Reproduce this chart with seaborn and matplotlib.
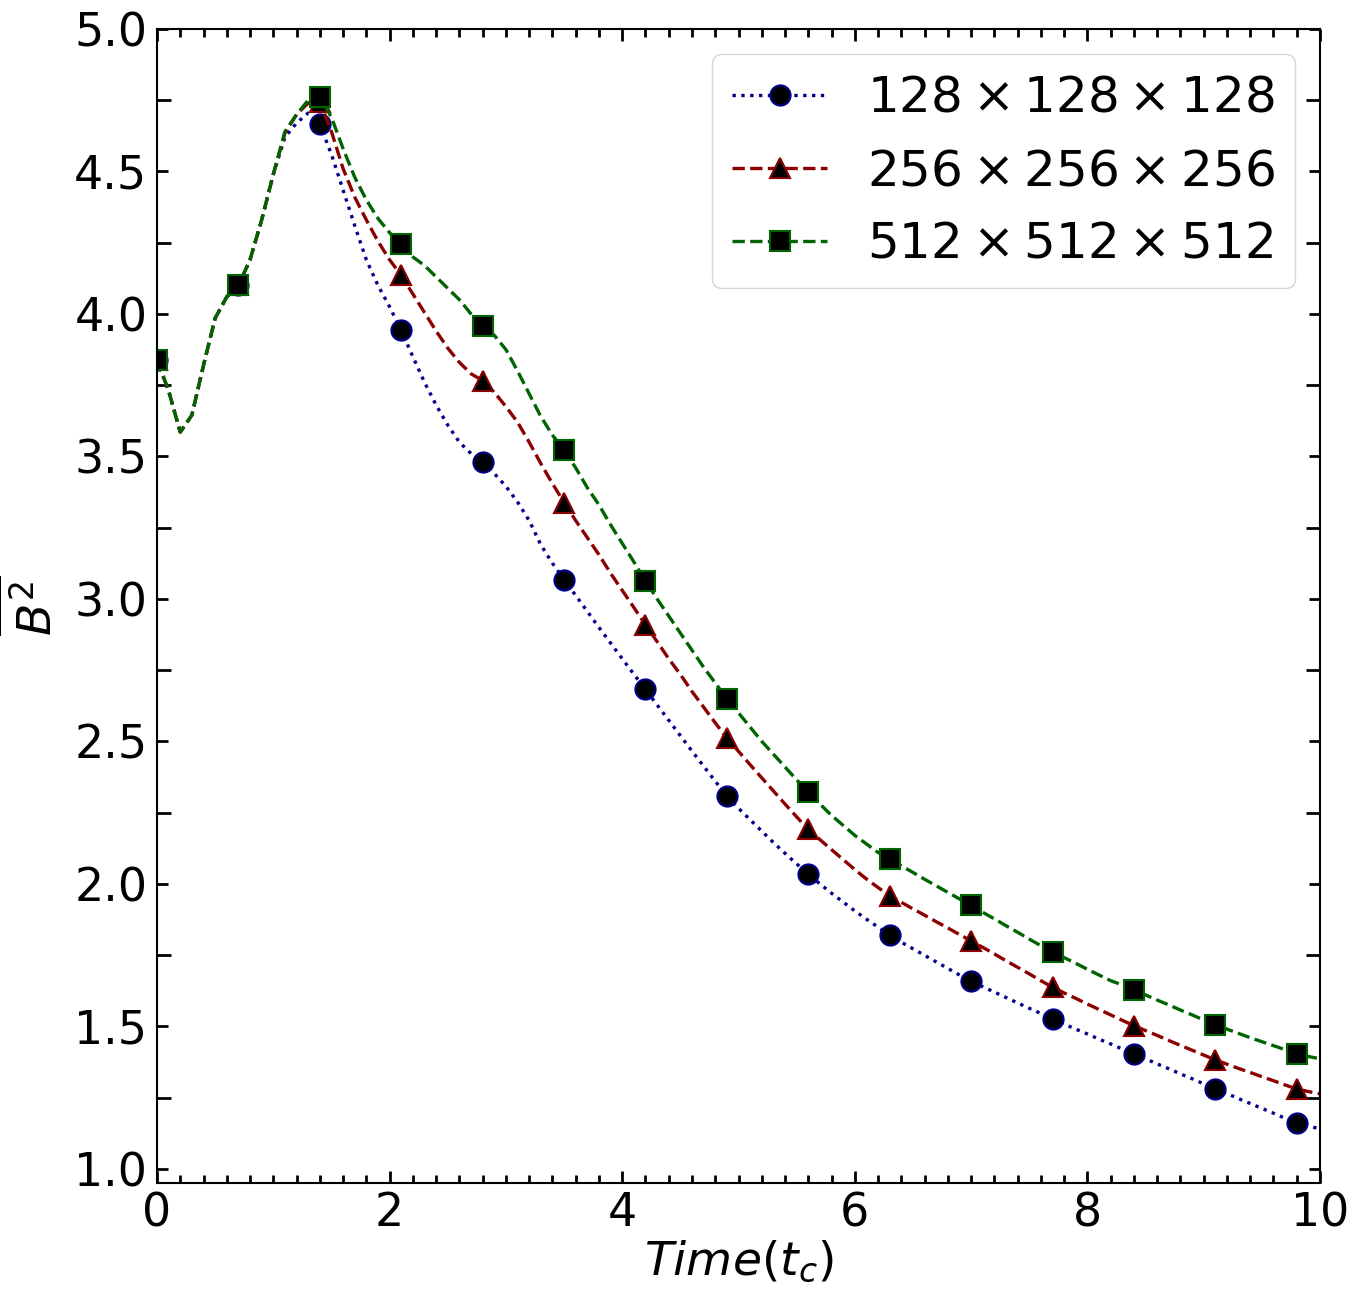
import numpy as np
import pandas as pd
import matplotlib
matplotlib.use("Agg")
import matplotlib.pyplot as plt
from matplotlib.ticker import MultipleLocator
import seaborn as sns

# time axis (t_c), sampled every 0.1
time = np.round(np.linspace(0.0, 10.0, 101), 1)

early = [3.84, 3.73, 3.585, 3.645, 3.82, 3.985, 4.06, 4.10, 4.19, 4.33, 4.49]

b2_128 = early + [
    4.62, 4.67, 4.705, 4.665,
    4.56, 4.435, 4.31, 4.19, 4.10, 4.025, 3.942,
    3.85, 3.76, 3.68, 3.61, 3.55, 3.51, 3.479,
    3.44, 3.395, 3.34, 3.275, 3.19, 3.125, 3.068,
    3.012, 2.956, 2.90, 2.845, 2.79, 2.736, 2.682,
    2.628, 2.574, 2.52, 2.466, 2.413, 2.36, 2.308,
    2.265, 2.225, 2.185, 2.145, 2.107, 2.07, 2.034,
    2.0, 1.967, 1.936, 1.905, 1.876, 1.848, 1.82,
    1.795, 1.772, 1.749, 1.726, 1.703, 1.68, 1.658,
    1.639, 1.62, 1.601, 1.582, 1.563, 1.545, 1.526,
    1.508, 1.49, 1.473, 1.455, 1.438, 1.42, 1.403,
    1.386, 1.368, 1.351, 1.333, 1.316, 1.298, 1.281,
    1.264, 1.246, 1.229, 1.212, 1.195, 1.177, 1.16,
    1.15, 1.14,
]

b2_256 = early + [
    4.635, 4.70, 4.74, 4.744,
    4.64, 4.51, 4.41, 4.33, 4.255, 4.19, 4.135,
    4.07, 4.005, 3.94, 3.88, 3.83, 3.79, 3.766,
    3.725, 3.675, 3.62, 3.55, 3.475, 3.405, 3.338,
    3.275, 3.215, 3.155, 3.09, 3.03, 2.97, 2.909,
    2.85, 2.79, 2.735, 2.675, 2.62, 2.565, 2.511,
    2.465, 2.418, 2.372, 2.326, 2.28, 2.235, 2.191,
    2.155, 2.12, 2.085, 2.05, 2.017, 1.987, 1.958,
    1.935, 1.912, 1.89, 1.867, 1.845, 1.822, 1.80,
    1.777, 1.754, 1.73, 1.707, 1.684, 1.66, 1.637,
    1.617, 1.598, 1.578, 1.559, 1.54, 1.521, 1.502,
    1.485, 1.468, 1.45, 1.433, 1.416, 1.399, 1.382,
    1.367, 1.352, 1.338, 1.323, 1.309, 1.294, 1.28,
    1.271, 1.263,
]

b2_512 = early + [
    4.64, 4.70, 4.75, 4.762,
    4.69, 4.58, 4.48, 4.40, 4.335, 4.285, 4.245,
    4.20, 4.17, 4.13, 4.09, 4.05, 4.00, 3.958,
    3.925, 3.875, 3.80, 3.72, 3.64, 3.575, 3.522,
    3.46, 3.39, 3.33, 3.26, 3.195, 3.13, 3.063,
    3.00, 2.94, 2.88, 2.82, 2.76, 2.705, 2.649,
    2.60, 2.55, 2.50, 2.455, 2.41, 2.365, 2.323,
    2.28, 2.24, 2.205, 2.17, 2.14, 2.11, 2.087,
    2.063, 2.04, 2.016, 1.993, 1.97, 1.947, 1.924,
    1.90, 1.877, 1.853, 1.83, 1.806, 1.783, 1.761,
    1.741, 1.721, 1.70, 1.68, 1.66, 1.645, 1.628,
    1.61, 1.592, 1.575, 1.557, 1.54, 1.522, 1.505,
    1.49, 1.475, 1.46, 1.446, 1.432, 1.418, 1.403,
    1.394, 1.386,
]

labels = [r"$128\times128\times128$", r"$256\times256\times256$", r"$512\times512\times512$"]
series = [b2_128, b2_256, b2_512]
colors = ["darkblue", "darkred", "darkgreen"]
styles = [":", "--", "--"]
markers = ["o", "^", "s"]

W, H = 1360, 1299
fig = plt.figure(figsize=(W / 100, H / 100), dpi=100)
ax = fig.add_axes([157 / W, 1 - 1183 / H, (1320 - 157) / W, (1183 - 29) / H])

for y, lab, c, ls, m in zip(series, labels, colors, styles, markers):
    df = pd.DataFrame({"t": time, "B2": y})
    sns.lineplot(data=df, x="t", y="B2", ax=ax, color=c, linestyle=ls, lw=2.4,
                 marker=m, markersize=14.5, markerfacecolor="black",
                 markeredgecolor=c, markeredgewidth=1.5, markevery=7,
                 label=lab)

ax.set_xlim(0, 10)
ax.set_ylim(0.95, 5.0)
ax.xaxis.set_major_locator(MultipleLocator(2))
ax.xaxis.set_minor_locator(MultipleLocator(0.2))
ax.yaxis.set_major_locator(MultipleLocator(0.5))
ax.yaxis.set_minor_locator(MultipleLocator(0.25))

ax.tick_params(which="both", direction="in", top=True, right=True, width=2)
ax.tick_params(axis="x", which="major", length=8.5, pad=6, labelsize=33)
ax.tick_params(axis="x", which="minor", length=5.8)
ax.tick_params(axis="y", which="major", length=7.8, pad=7, labelsize=33)
ax.tick_params(axis="y", which="minor", length=10)
for sp in ax.spines.values():
    sp.set_linewidth(1.5)

ax.set_xlabel(r"$Time(t_c)$", fontsize=34, labelpad=2)
ax.set_ylabel(r"$\overline{B^2}$", fontsize=34, labelpad=8)

ax.legend(loc="upper right", fontsize=36, handlelength=1.9)

fig.savefig("out.png", dpi=100)
